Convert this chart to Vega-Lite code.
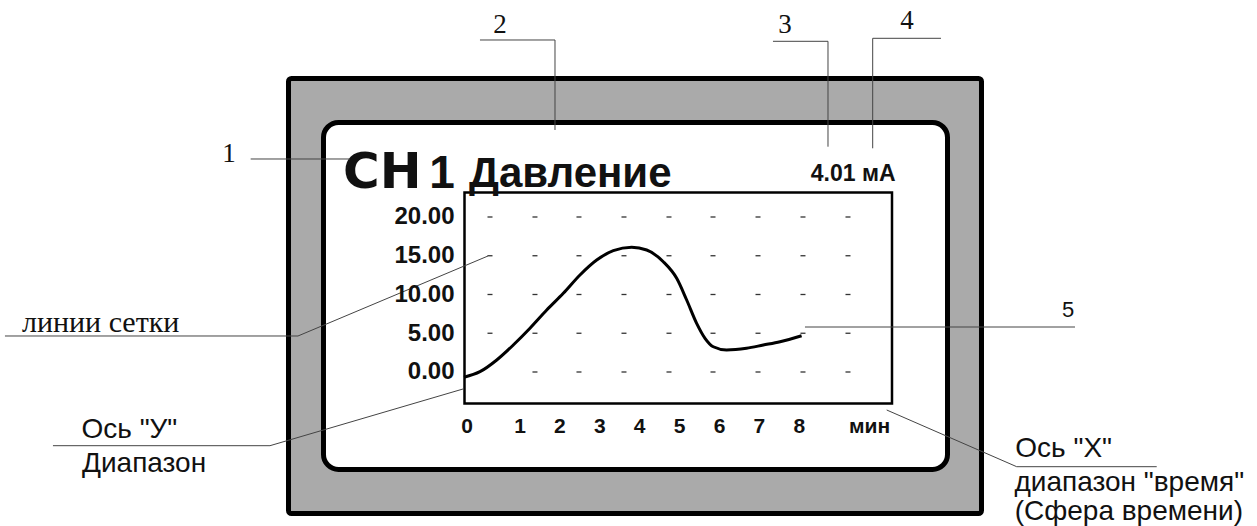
{
  "$schema": "https://vega.github.io/schema/vega-lite/v6.json",
  "width": 427.5,
  "height": 211,
  "autosize": {"type": "none"},
  "padding": {"left": 464.5, "top": 192.5, "right": 365, "bottom": 122.5},
  "background": "white",
  "config": {"view": {"stroke": null}},
  "encoding": {
    "x": {
      "field": "t", "type": "quantitative",
      "scale": {"domain": [-0.378, 10.336], "nice": false, "zero": false},
      "axis": {
        "title": null, "domain": false, "ticks": false, "tickSize": 0, "grid": false,
        "values": [-0.326, 1, 2, 3, 4, 5, 6, 7, 8, 9.76],
        "labelExpr": "datum.value < 0 ? '0' : datum.value > 9 ? 'мин' : format(datum.value, 'd')",
        "labelFont": "Liberation Sans", "labelFontWeight": "bold", "labelFontSize": 21,
        "labelColor": "#111", "labelPadding": 12, "labelOverlap": false, "labelFlush": false,
        "zindex": 1
      }
    },
    "y": {
      "field": "v", "type": "quantitative",
      "scale": {"domain": [-4.065, 23.161], "nice": false, "zero": false},
      "axis": {
        "title": null, "domain": false, "ticks": false, "tickSize": 0, "grid": false,
        "values": [0, 5, 10, 15, 20], "format": ".2f",
        "labelFont": "Liberation Sans", "labelFontWeight": "bold", "labelFontSize": 24,
        "labelColor": "#111", "labelPadding": 10.5, "labelOverlap": false, "labelFlush": false,
        "zindex": 1
      }
    }
  },
  "layer": [
    {
      "data": {"values": [{"part": "device frame", "t": -4.789, "t2": 12.579, "v": 37.871, "v2": -18.258}]},
      "mark": {"type": "rect", "fill": "#aaaaaa", "stroke": "black", "strokeWidth": 5, "cornerRadius": 3},
      "encoding": {"x2": {"field": "t2"}, "y2": {"field": "v2"}}
    },
    {
      "data": {"values": [{"part": "screen", "t": -3.912, "t2": 11.727, "v": 32.194, "v2": -12.581}]},
      "mark": {"type": "rect", "fill": "white", "stroke": "black", "strokeWidth": 5, "cornerRadius": 15},
      "encoding": {"x2": {"field": "t2"}, "y2": {"field": "v2"}}
    },
    {
      "data": {"values": [{"part": "plot box", "t": -0.378, "t2": 10.336, "v": -4.065, "v2": 23.161}]},
      "mark": {"type": "rect", "fill": "white", "stroke": "black", "strokeWidth": 2.5},
      "encoding": {"x2": {"field": "t2"}, "y2": {"field": "v2"}}
    },
    {
      "data": {"values": [
        {"v": 20, "t": [0.261, 1.388, 2.491, 3.619, 4.747, 5.85, 6.978, 8.105, 9.233]},
        {"v": 15, "t": [0.261, 1.388, 2.491, 3.619, 4.747, 5.85, 6.978, 8.105, 9.233]},
        {"v": 10, "t": [0.261, 1.388, 2.491, 3.619, 4.747, 5.85, 6.978, 8.105, 9.233]},
        {"v": 5, "t": [0.261, 1.388, 2.491, 3.619, 4.747, 5.85, 6.978, 8.105, 9.233]},
        {"v": 0, "t": [1.388, 2.491, 3.619, 4.747, 5.85, 6.978, 8.105, 9.233]}
      ]},
      "transform": [{"flatten": ["t"]}],
      "mark": {"type": "tick", "orient": "horizontal", "size": 5, "thickness": 1.3, "color": "#333", "opacity": 1}
    },
    {
      "data": {"values": [
        {"t": -0.391, "v": -0.68}, {"t": 0.01, "v": 0.04}, {"t": 0.43, "v": 1.55}, {"t": 0.845, "v": 3.48},
        {"t": 1.263, "v": 5.64}, {"t": 1.682, "v": 7.99}, {"t": 2.098, "v": 10.15}, {"t": 2.516, "v": 12.52},
        {"t": 2.935, "v": 14.45}, {"t": 3.351, "v": 15.65}, {"t": 3.812, "v": 16.09}, {"t": 4.188, "v": 15.74},
        {"t": 4.604, "v": 14.23}, {"t": 4.94, "v": 12.09}, {"t": 5.19, "v": 9.29}, {"t": 5.44, "v": 6.28},
        {"t": 5.65, "v": 4.35}, {"t": 5.857, "v": 3.26}, {"t": 6.19, "v": 2.84}, {"t": 6.69, "v": 3.06},
        {"t": 7.11, "v": 3.48}, {"t": 7.53, "v": 3.91}, {"t": 8.07, "v": 4.68}
      ]},
      "mark": {"type": "line", "interpolate": "monotone", "color": "black", "strokeWidth": 3},
      "encoding": {}
    },
    {
      "data": {"values": [
        {"label": "1", "t": -6.281, "v": 27.097},
        {"label": "2", "t": 0.511, "v": 43.742},
        {"label": "3", "t": 7.654, "v": 43.742},
        {"label": "4", "t": 10.712, "v": 44.258}
      ]},
      "mark": {"type": "text", "font": "Liberation Serif", "fontSize": 27, "align": "center", "baseline": "alphabetic", "color": "#111"},
      "encoding": {"text": {"field": "label"}}
    },
    {
      "data": {"values": [{"label": "CH", "t": -3.42, "v": 23.75}]},
      "mark": {"type": "text", "font": "DejaVu Sans", "fontWeight": "bold", "fontSize": 50, "align": "left", "baseline": "alphabetic", "color": "#111"},
      "encoding": {"text": {"field": "label"}}
    },
    {
      "data": {"values": [{"label": "1", "t": -0.94, "v": 23.75}]},
      "mark": {"type": "text", "font": "Liberation Sans", "fontWeight": "bold", "fontSize": 46, "align": "center", "baseline": "alphabetic", "color": "#111"},
      "encoding": {"text": {"field": "label"}}
    },
    {
      "data": {"values": [{"label": "Давление", "t": -0.266, "v": 23.871}]},
      "mark": {"type": "text", "font": "Liberation Sans", "fontWeight": "bold", "fontSize": 42, "align": "left", "baseline": "alphabetic", "color": "#111"},
      "encoding": {"text": {"field": "label"}}
    },
    {
      "data": {"values": [{"label": "4.01 мА", "t": 10.424, "v": 24.645}]},
      "mark": {"type": "text", "font": "Liberation Sans", "fontWeight": "bold", "fontSize": 23, "align": "right", "baseline": "alphabetic", "color": "#111"},
      "encoding": {"text": {"field": "label"}}
    },
    {
      "data": {"values": [{"label": "5", "t": 14.747, "v": 7.097}]},
      "mark": {"type": "text", "font": "Liberation Sans", "fontSize": 22, "align": "center", "baseline": "alphabetic", "color": "#111"},
      "encoding": {"text": {"field": "label"}}
    },
    {
      "data": {"values": [{"label": "линии сетки", "t": -11.469, "v": 5.161}]},
      "mark": {"type": "text", "font": "Liberation Serif", "fontSize": 30, "align": "left", "baseline": "alphabetic", "color": "#111"},
      "encoding": {"text": {"field": "label"}}
    },
    {
      "data": {"values": [
        {"label": "Ось \"У\"", "t": -9.977, "v": -8.516},
        {"label": "Диапазон", "t": -9.965, "v": -12.903},
        {"label": "Ось \"X\"", "t": 13.426, "v": -10.968},
        {"label": "диапазон \"время\"", "t": 13.406, "v": -15.355},
        {"label": "(Сфера времени)", "t": 13.41, "v": -19.097}
      ]},
      "mark": {"type": "text", "font": "Liberation Sans", "fontSize": 28, "align": "left", "baseline": "alphabetic", "color": "#111"},
      "encoding": {"text": {"field": "label"}}
    },
    {
      "data": {"values": [
        {"id": "1", "k": 1, "t": -5.737, "v": 27.484}, {"id": "1", "k": 2, "t": -3.248, "v": 27.484},
        {"id": "2", "k": 1, "t": 0.01, "v": 42.839}, {"id": "2", "k": 2, "t": 1.89, "v": 42.839}, {"id": "2", "k": 3, "t": 1.89, "v": 31.226},
        {"id": "3", "k": 1, "t": 7.353, "v": 42.671}, {"id": "3", "k": 2, "t": 8.732, "v": 42.671}, {"id": "3", "k": 3, "t": 8.732, "v": 29.071},
        {"id": "4", "k": 1, "t": 11.564, "v": 43.058}, {"id": "4", "k": 2, "t": 9.852, "v": 43.058}, {"id": "4", "k": 3, "t": 9.852, "v": 28.865},
        {"id": "5", "k": 1, "t": 8.155, "v": 5.806}, {"id": "5", "k": 2, "t": 14.922, "v": 5.806},
        {"id": "grid", "k": 1, "t": -11.895, "v": 4.645}, {"id": "grid", "k": 2, "t": -4.551, "v": 4.645}, {"id": "grid", "k": 3, "t": 0.211, "v": 14.968},
        {"id": "yaxis", "k": 1, "t": -10.692, "v": -9.51}, {"id": "yaxis", "k": 2, "t": -5.253, "v": -9.51}, {"id": "yaxis", "k": 3, "t": -0.416, "v": -2.194},
        {"id": "xaxis", "k": 1, "t": 10.203, "v": -4.903}, {"id": "xaxis", "k": 2, "t": 13.461, "v": -12.219}, {"id": "xaxis", "k": 3, "t": 16.97, "v": -12.219}
      ]},
      "mark": {"type": "line", "color": "#444", "strokeWidth": 1},
      "encoding": {"detail": {"field": "id"}, "order": {"field": "k", "type": "quantitative"}}
    }
  ]
}
